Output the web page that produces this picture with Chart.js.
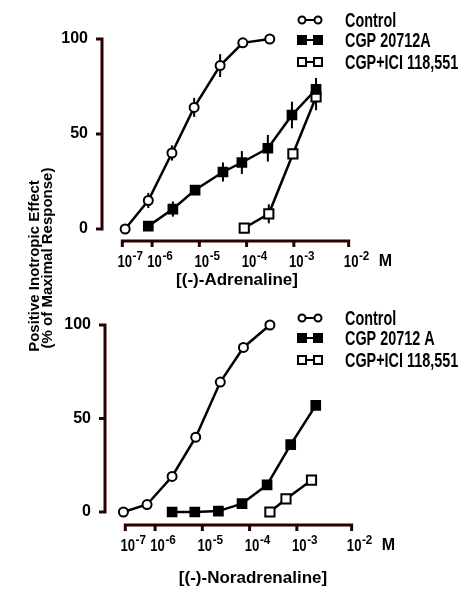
<!DOCTYPE html>
<html>
<head>
<meta charset="utf-8">
<script src="https://cdn.jsdelivr.net/npm/chart.js@4.4.1/dist/chart.umd.min.js"></script>
<style>
  html, body { margin: 0; padding: 0; background: #fff; overflow: hidden; }
  #wrap { position: relative; width: 464px; height: 591px; }
  canvas { position: absolute; }
  #topPanel { left: 0; top: 0; }
  #bottomPanel { left: 3px; top: 295px; }
  .ytitle {
    position: absolute;
    font: bold 15px "Liberation Sans", Arial, sans-serif;
    color: #000;
    white-space: nowrap;
    transform: translate(-50%, -50%) rotate(-90deg);
  }
</style>
</head>
<body>
<div id="wrap">
  <canvas id="topPanel" width="464" height="296"></canvas>
  <canvas id="bottomPanel" width="464" height="296"></canvas>
  <div class="ytitle" style="left:33px; top:266px;">Positive Inotropic Effect</div>
  <div class="ytitle" style="left:46px; top:258px;">(% of Maximal Response)</div>
</div>
<script>
// concentrations are log10(M)
const X_TICK_AT = [-6.63, -6, -5, -4, -3, -1.84];   // where each decade label sits on the drawn axis
const X_TICK_EXP = ['-7', '-6', '-5', '-4', '-3', '-2'];
const Y_TICKS = [0, 50, 100];

const adrNames = ['Control', 'CGP 20712A', 'CGP+ICI 118,551'];
const noradNames = ['Control', 'CGP 20712 A', 'CGP+ICI 118,551'];

// (-)-adrenaline
const adrControlX = [-6.57, -6.08, -5.58, -5.11, -4.56, -4.08, -3.51];
const adrControlY = [0, 15, 40, 64, 86, 98, 100];
const adrControlErr = [0, 4, 4, 5, 6, 0, 0];
const adrCgpX = [-6.08, -5.56, -5.09, -4.50, -4.10, -3.55, -3.04, -2.53];
const adrCgpY = [1.5, 10.5, 20.5, 30, 35, 42.5, 60, 73.5];
const adrCgpErr = [0, 4, 0, 5, 6, 7, 7, 6];
const adrIciX = [-4.05, -3.53, -3.02, -2.53];
const adrIciY = [0.5, 8, 39.5, 69.5];
const adrIciErr = [0, 5, 0, 7];

// (-)-noradrenaline
const noradControlX = [-6.67, -6.17, -5.64, -5.14, -4.62, -4.13, -3.57];
const noradControlY = [0, 4, 19, 40, 69.5, 88, 100];
const noradCgpX = [-5.64, -5.16, -4.66, -4.16, -3.63, -3.13, -2.60];
const noradCgpY = [0, 0, 0.5, 4.5, 14.5, 36, 57];
const noradIciX = [-3.57, -3.23, -2.69];
const noradIciY = [0, 7, 17];

const FONT = '"Liberation Sans", Arial, sans-serif';
const AXIS_COLOR = 'rgb(40,0,0)';

// marker look for control / CGP / CGP+ICI
const MARKERS = [
  { style: 'circle', radius: 4.5, fill: '#fff', border: 2 },
  { style: 'rect', radius: 6.5, fill: '#000', border: 1.5 },
  { style: 'rect', radius: 6.5, fill: '#fff', border: 2 },
];

// bold text, optionally squeezed sideways
function drawText(ctx, str, x, y, size, opts = {}) {
  const sx = opts.squeeze || 1;
  ctx.save();
  ctx.font = `bold ${size}px ${FONT}`;
  ctx.fillStyle = '#000';
  ctx.textBaseline = opts.baseline || 'alphabetic';
  ctx.textAlign = 'left';
  const w = ctx.measureText(str).width * sx;
  let left = x;
  if (opts.align === 'center') left = x - w / 2;
  else if (opts.align === 'right') left = x - w;
  ctx.translate(left, y);
  ctx.scale(sx, 1);
  ctx.fillText(str, 0, 0);
  ctx.restore();
  return w;
}

function legendMarker(ctx, m, x, y) {
  ctx.save();
  ctx.lineWidth = 2;
  ctx.strokeStyle = '#000';
  ctx.fillStyle = m.fill;
  ctx.beginPath();
  if (m.style === 'circle') {
    ctx.arc(x, y, 3.5, 0, Math.PI * 2);
  } else {
    ctx.rect(x - 4, y - 4, 8, 8);
  }
  ctx.fill();
  ctx.stroke();
  ctx.restore();
}

const errorBars = {
  id: 'errorBars',
  beforeDatasetsDraw(chart) {
    const ctx = chart.ctx;
    const ys = chart.scales.y;
    ctx.save();
    ctx.strokeStyle = '#000';
    ctx.lineWidth = 2;
    chart.data.datasets.forEach((ds, di) => {
      if (!ds.errorBars) return;
      const meta = chart.getDatasetMeta(di);
      ds.data.forEach((p, i) => {
        const e = ds.errorBars[i];
        if (!e) return;
        const px = meta.data[i].x;
        ctx.beginPath();
        ctx.moveTo(px, ys.getPixelForValue(p.y - e));
        ctx.lineTo(px, ys.getPixelForValue(p.y + e));
        ctx.stroke();
      });
    });
    ctx.restore();
  }
};

function makePanel(canvasId, names, series, layout) {
  const datasets = series.map((s, k) => ({
    label: names[k],
    data: s.x.map((x, i) => ({ x, y: s.y[i] })),
    errorBars: s.err || null,
    showLine: true,
    borderColor: '#000',
    borderWidth: 2.5,
    pointStyle: MARKERS[k].style,
    pointRadius: MARKERS[k].radius,
    pointBackgroundColor: MARKERS[k].fill,
    pointBorderColor: '#000',
    pointBorderWidth: MARKERS[k].border,
  }));

  const panelText = {
    id: 'panelText',
    afterDraw(chart) {
      const ctx = chart.ctx;
      const a = chart.chartArea;
      const xs = chart.scales.x;
      const ys = chart.scales.y;

      // detached axes: lines only between the outer ticks, ticks pointing outward
      ctx.save();
      ctx.strokeStyle = AXIS_COLOR;
      ctx.lineWidth = 3;
      ctx.beginPath();
      ctx.moveTo(a.left - 6, ys.getPixelForValue(Y_TICKS[Y_TICKS.length - 1]));
      ctx.lineTo(a.left, ys.getPixelForValue(Y_TICKS[Y_TICKS.length - 1]));
      ctx.lineTo(a.left, ys.getPixelForValue(Y_TICKS[0]));
      ctx.lineTo(a.left - 6, ys.getPixelForValue(Y_TICKS[0]));
      ctx.stroke();
      for (const v of Y_TICKS.slice(1, -1)) {
        const py = ys.getPixelForValue(v);
        ctx.beginPath();
        ctx.moveTo(a.left - 6, py);
        ctx.lineTo(a.left, py);
        ctx.stroke();
      }
      const xFirst = xs.getPixelForValue(X_TICK_AT[0]);
      const xLast = xs.getPixelForValue(X_TICK_AT[X_TICK_AT.length - 1]);
      ctx.beginPath();
      ctx.moveTo(xFirst, a.bottom + 6);
      ctx.lineTo(xFirst, a.bottom);
      ctx.lineTo(xLast, a.bottom);
      ctx.lineTo(xLast, a.bottom + 6);
      ctx.stroke();
      for (const v of X_TICK_AT.slice(1, -1)) {
        const px = xs.getPixelForValue(v);
        ctx.beginPath();
        ctx.moveTo(px, a.bottom);
        ctx.lineTo(px, a.bottom + 6);
        ctx.stroke();
      }
      ctx.restore();

      // 10^n tick labels
      X_TICK_AT.forEach((v, i) => {
        const px = xs.getPixelForValue(v);
        ctx.save();
        ctx.font = `bold 16px ${FONT}`;
        const w10 = ctx.measureText('10').width * 0.82;
        ctx.restore();
        const l = px + 2.5 - w10 / 2;
        drawText(ctx, '10', l, a.bottom + 26, 16, { squeeze: 0.82 });
        drawText(ctx, X_TICK_EXP[i], l + w10 + 0.5, a.bottom + 19, 13, { squeeze: 0.9 });
      });
      drawText(ctx, 'M', xLast + 30, a.bottom + 25, 16);

      // axis title
      drawText(ctx, layout.title, layout.titleX, layout.titleY, 17, { align: 'center' });

      // legend: marker - line - marker, then name
      names.forEach((name, k) => {
        const y = layout.legendY[k];
        ctx.save();
        ctx.strokeStyle = '#000';
        ctx.lineWidth = 2;
        ctx.beginPath();
        ctx.moveTo(layout.legendM1, y);
        ctx.lineTo(layout.legendM2, y);
        ctx.stroke();
        ctx.restore();
        legendMarker(ctx, MARKERS[k], layout.legendM1, y);
        legendMarker(ctx, MARKERS[k], layout.legendM2, y);
        drawText(ctx, name, layout.legendText, y + 7, 20, { squeeze: 0.72 });
      });
    }
  };

  return new Chart(document.getElementById(canvasId), {
    type: 'scatter',
    data: { datasets },
    options: {
      responsive: false,
      animation: false,
      layout: { padding: { top: layout.padTop, right: 104, left: 0, bottom: 0 } },
      plugins: {
        legend: { display: false },
        tooltip: { enabled: false },
      },
      scales: {
        x: {
          type: 'linear',
          min: -7.06,
          max: -1.6,
          afterBuildTicks: s => { s.ticks = X_TICK_AT.map(value => ({ value })); },
          afterFit: s => { s.height = layout.xAxisHeight; },
          grid: { display: false },
          border: { display: false },
          ticks: { display: false },
        },
        y: {
          type: 'linear',
          min: layout.yMin,
          max: layout.yMax,
          afterBuildTicks: s => { s.ticks = Y_TICKS.map(value => ({ value })); },
          afterFit: s => { s.width = 102; },
          grid: { display: false },
          border: { display: false },
          ticks: {
            color: '#000',
            padding: 6,
            font: { family: FONT, size: 16, weight: 'bold' },
            callback: v => String(v),
          },
        },
      },
    },
    plugins: [errorBars, panelText],
  });
}

makePanel('topPanel', adrNames, [
  { x: adrControlX, y: adrControlY, err: adrControlErr },
  { x: adrCgpX, y: adrCgpY, err: adrCgpErr },
  { x: adrIciX, y: adrIciY, err: adrIciErr },
], {
  padTop: 30, xAxisHeight: 55, yMin: -6.32, yMax: 104.74,
  title: '[(-)-Adrenaline]', titleX: 237, titleY: 285,
  legendY: [20, 40, 62], legendM1: 302, legendM2: 318, legendText: 345,
});

makePanel('bottomPanel', noradNames, [
  { x: noradControlX, y: noradControlY },
  { x: noradCgpX, y: noradCgpY },
  { x: noradIciX, y: noradIciY },
], {
  padTop: 20, xAxisHeight: 66, yMin: -6.95, yMax: 105.35,
  title: '[(-)-Noradrenaline]', titleX: 250, titleY: 288,
  legendY: [23, 43, 65], legendM1: 299, legendM2: 315, legendText: 342,
});
</script>
</body>
</html>
